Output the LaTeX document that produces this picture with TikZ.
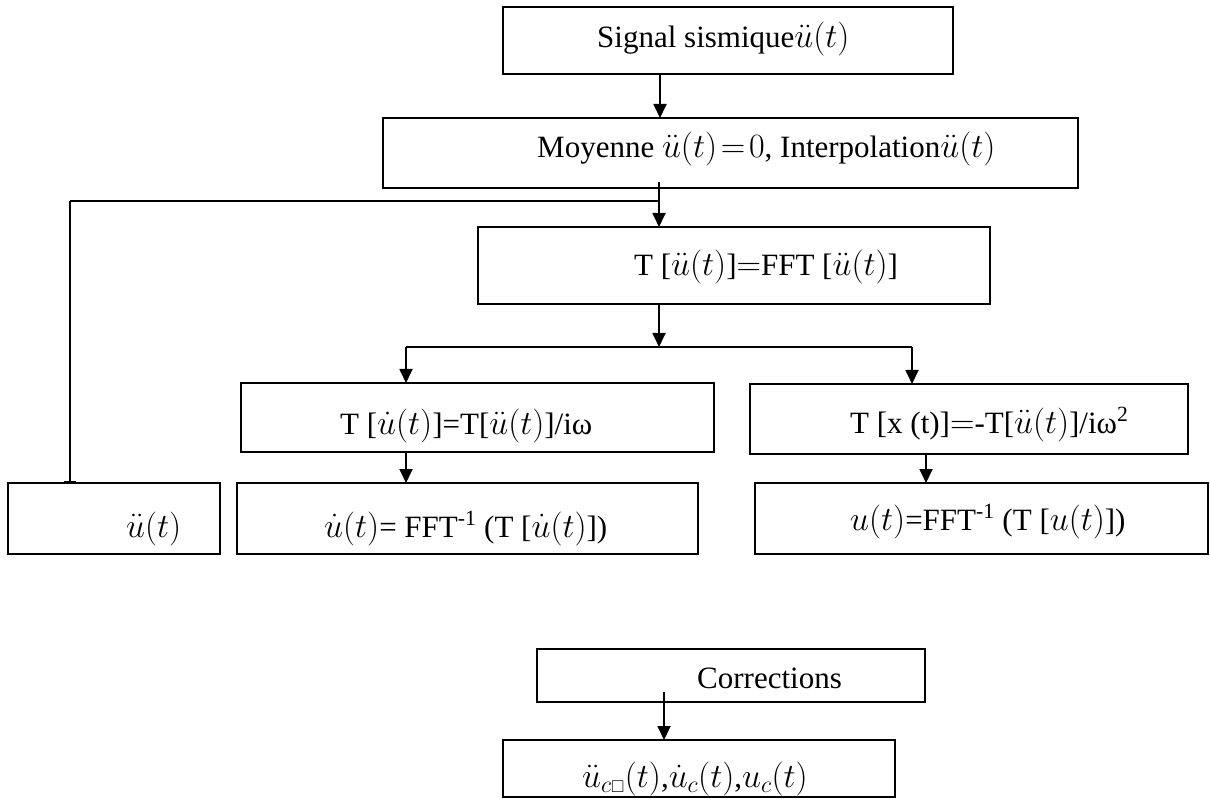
\documentclass[tikz,border=0pt]{standalone}
\usepackage{fix-cm}
\usepackage{amssymb}
\usepackage{fontspec}
\setmainfont{Liberation Serif}
\usetikzlibrary{arrows.meta,calc}
\newcommand{\mth}[1]{{\fontsize{34}{36}\selectfont$#1$}}
\tikzset{
  boxnode/.style={draw, line width=1.8pt, rectangle, inner sep=0pt, outer sep=0pt, anchor=north west},
  txt/.style={anchor=base west, inner sep=0pt, font=\fontsize{31}{36}\selectfont},
  conn/.style={line width=1.8pt},
  arr/.style={line width=1.8pt, -{Triangle[length=14pt,width=13pt]}},
  tee/.style={line width=1.8pt, -{Bar[width=12pt,line width=1.8pt]}}
}
\begin{document}
\begin{tikzpicture}[x=1pt,y=-1pt]
\useasboundingbox (0,0) rectangle (1210,799);
% boxes
\node[boxnode, minimum width=450pt, minimum height=67pt] (b1) at (503,7) {};
\node[boxnode, minimum width=695pt, minimum height=70pt] (b2) at (383,118) {};
\node[boxnode, minimum width=512pt, minimum height=77pt] (b3) at (478,227) {};
\node[boxnode, minimum width=473pt, minimum height=69pt] (b4) at (241,383) {};
\node[boxnode, minimum width=438pt, minimum height=70pt] (b5) at (750,384) {};
\node[boxnode, minimum width=212pt, minimum height=71pt] (b6) at (8,483) {};
\node[boxnode, minimum width=461pt, minimum height=71pt] (b7) at (237,483) {};
\node[boxnode, minimum width=453pt, minimum height=71pt] (b8) at (755,483) {};
\node[boxnode, minimum width=388pt, minimum height=53pt] (b9) at (537,649) {};
\node[boxnode, minimum width=392pt, minimum height=57pt] (b10) at (503,740) {};
% texts
\node[txt] (t1) at (597,48) {Signal sismique\mth{\ddot u(t)}};
\node[txt] (t2) at (537,158) {Moyenne \mth{\ddot u(t)\!=\!0}, Interpolation\mth{\ddot u(t)}};
\node[txt] (t3) at (634,276) {T [\mth{\ddot u(t)}]\mth{=}FFT [\mth{\ddot u(t)}]};
\node[txt] (t4) at (340,435) {T [\mth{\dot u(t)}]=T[\mth{\ddot u(t)}]/iω};
\node[txt] (t5) at (850,433) {T [x (t)]\mth{=}-T[\mth{\ddot u(t)}]/iω\textsuperscript{2}};
\node[txt] (t6) at (126,537) {\mth{\ddot u(t)}};
\node[txt] (t7) at (324,537) {\mth{\dot u(t)}= FFT\textsuperscript{-1} (T [\mth{\dot u(t)}])};
\node[txt] (t8) at (850,530) {\mth{u(t)}=FFT\textsuperscript{-1} (T [\mth{u(t)}])};
\node[txt] (t9) at (697,688) {Corrections};
\node[txt] (t10) at (582,787) {\mth{\ddot u_{c\scriptscriptstyle\square}(t)},\mth{\dot u_c(t)},\mth{u_c(t)}};
% coordinates
\coordinate (xa) at (660,0);
\coordinate (xb) at (659,0);
\coordinate (xl) at (70,0);
\coordinate (xd) at (406,0);
\coordinate (xe) at (912,0);
\coordinate (xf) at (926,0);
\coordinate (xg) at (664,0);
\coordinate (j1) at (659,201);
\coordinate (j2) at (659,347);
% connectors
\draw[arr] (b1.south -| xa) -- (b2.north -| xa);
\draw[arr] ($(b2.south -| xb)+(0,-6)$) -- (b3.north -| xb);
\draw[conn] (j1) -- (j1 -| xl);
\draw[tee] (j1 -| xl) -- (b6.north -| xl);
\draw[arr] (b3.south -| xb) -- (j2);
\draw[conn] (j2 -| xd) -- (j2 -| xe);
\draw[arr] (j2 -| xd) -- (b4.north -| xd);
\draw[arr] (j2 -| xe) -- (b5.north -| xe);
\draw[arr] (b4.south -| xd) -- (b7.north -| xd);
\draw[arr] (b5.south -| xf) -- (b8.north -| xf);
\draw[arr] ($(b9.south -| xg)+(0,-10)$) -- (b10.north -| xg);
\end{tikzpicture}
\end{document}
